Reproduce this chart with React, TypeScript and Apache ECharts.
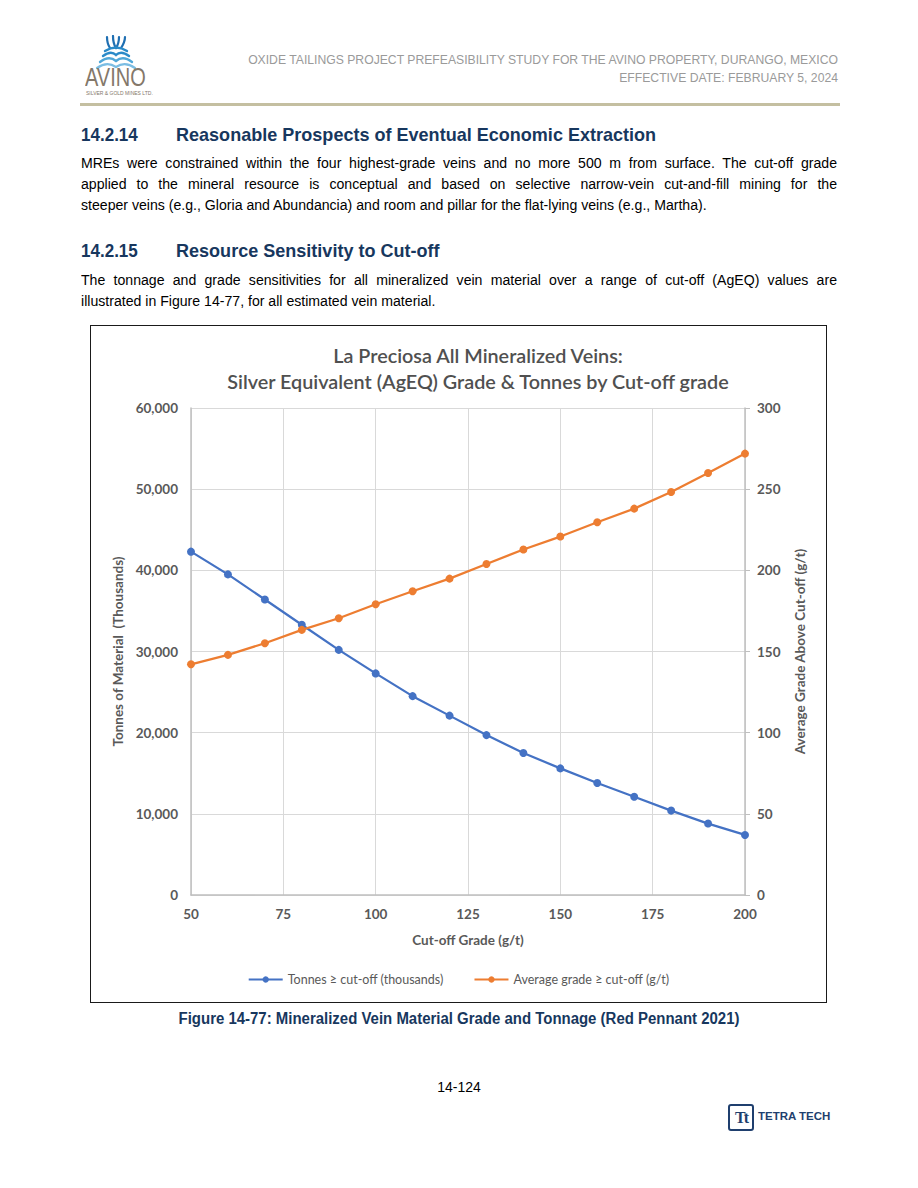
import React, { useEffect, useRef } from "react";
import * as echarts from "echarts";

const cutoffGrades = [50, 60, 70, 80, 90, 100, 110, 120, 130, 140, 150, 160, 170, 180, 190, 200];
const tonnesAbove = [42300, 39500, 36400, 33300, 30200, 27300, 24500, 22100, 19700, 17500, 15600, 13800, 12100, 10400, 8800, 7400];
const gradeAbove = [142.1, 147.9, 155.1, 163.3, 170.5, 179.1, 187.1, 194.9, 203.9, 212.8, 220.8, 229.6, 238.0, 248.3, 260.0, 271.9];
const seriesNames = ["Tonnes \u2265 cut-off (thousands)", "Average grade \u2265 cut-off (g/t)"];
const titleLines = ["La Preciosa All Mineralized Veins:", "Silver Equivalent (AgEQ) Grade & Tonnes by Cut-off grade"];

const para1Lines = [
  "MREs were constrained within the four highest-grade veins and no more 500 m from surface. The cut-off grade",
  "applied to the mineral resource is conceptual and based on selective narrow-vein cut-and-fill mining for the",
  "steeper veins (e.g., Gloria and Abundancia) and room and pillar for the flat-lying veins (e.g., Martha).",
];
const para2Lines = [
  "The tonnage and grade sensitivities for all mineralized vein material over a range of cut-off (AgEQ) values are",
  "illustrated in Figure 14-77, for all estimated vein material.",
];

const chartFont = "Lato, 'Open Sans', sans-serif";
const docFont = "'Liberation Sans', Arial, sans-serif";
const gray = "#595959";

function Chart() {
  const ref = useRef<HTMLDivElement>(null);
  useEffect(() => {
    if (!ref.current) return;
    const chart = echarts.init(ref.current, undefined, { renderer: "svg" });
    const tonnesData = cutoffGrades.map((c, i) => [c, tonnesAbove[i]]);
    const gradeData = cutoffGrades.map((c, i) => [c, gradeAbove[i]]);
    chart.setOption({
      animation: false,
      backgroundColor: "#ffffff",
      textStyle: { fontFamily: chartFont },
      graphic: [
        {
          type: "text",
          x: 387,
          y: 29,
          style: { text: titleLines[0], fill: "#505050", font: `600 19.8px ${chartFont}`, textAlign: "center", textVerticalAlign: "middle" },
        },
        {
          type: "text",
          x: 387,
          y: 55,
          style: { text: titleLines[1], fill: "#505050", font: `600 19.8px ${chartFont}`, textAlign: "center", textVerticalAlign: "middle" },
        },
      ],
      grid: { left: 100, right: 81, top: 82, bottom: 107, containLabel: false },
      legend: {
        bottom: 11,
        left: "center",
        itemWidth: 34,
        itemHeight: 8,
        itemGap: 30,
        textStyle: { color: gray, fontSize: 12.5, fontFamily: chartFont },
        data: seriesNames,
      },
      xAxis: {
        type: "value",
        min: 50,
        max: 200,
        interval: 25,
        name: "Cut-off Grade (g/t)",
        nameLocation: "middle",
        nameGap: 38,
        nameTextStyle: { color: gray, fontSize: 13.5, fontWeight: "bold", fontFamily: chartFont },
        axisLine: { show: true, lineStyle: { color: "#BFBFBF", width: 1.5 } },
        axisTick: { show: false },
        axisLabel: { color: gray, fontSize: 13.5, fontWeight: "bold", margin: 12 },
        splitLine: { show: true, lineStyle: { color: "#D9D9D9", width: 1 } },
      },
      yAxis: [
        {
          type: "value",
          min: 0,
          max: 60000,
          interval: 10000,
          name: "Tonnes of Material  (Thousands)",
          nameLocation: "middle",
          nameRotate: 90,
          nameGap: 63,
          nameTextStyle: { color: gray, fontSize: 13.5, fontWeight: "bold", fontFamily: chartFont },
          axisLine: { show: true, lineStyle: { color: "#BFBFBF", width: 1.5 } },
          axisTick: { show: false },
          axisLabel: {
            color: gray,
            fontSize: 13.5,
            fontWeight: "bold",
            margin: 13,
            formatter: (v: number) => v.toLocaleString("en-US"),
          },
          splitLine: { show: true, lineStyle: { color: "#D9D9D9", width: 1 } },
        },
        {
          type: "value",
          min: 0,
          max: 300,
          interval: 50,
          position: "right",
          name: "Average Grade Above Cut-off (g/t)",
          nameLocation: "middle",
          nameRotate: 90,
          nameGap: 48,
          nameTextStyle: { color: gray, fontSize: 13.5, fontWeight: "bold", fontFamily: chartFont },
          axisLine: { show: true, lineStyle: { color: "#BFBFBF", width: 1.5 } },
          axisTick: { show: true, length: 5, lineStyle: { color: "#BFBFBF" } },
          axisLabel: { color: gray, fontSize: 13.5, fontWeight: "bold", margin: 12 },
          splitLine: { show: false },
        },
      ],
      series: [
        {
          name: seriesNames[0],
          type: "line",
          yAxisIndex: 0,
          data: tonnesData,
          symbol: "circle",
          symbolSize: 8,
          color: "#4472C4",
          lineStyle: { width: 2.25, color: "#4472C4" },
          itemStyle: { color: "#4472C4" },
        },
        {
          name: seriesNames[1],
          type: "line",
          yAxisIndex: 1,
          data: gradeData,
          symbol: "circle",
          symbolSize: 8,
          color: "#ED7D31",
          lineStyle: { width: 2.25, color: "#ED7D31" },
          itemStyle: { color: "#ED7D31" },
        },
      ],
    });
    return () => chart.dispose();
  }, []);
  return <div ref={ref} style={{ width: 735, height: 676 }} />;
}

function AvinoLogo() {
  return (
    <div style={{ position: "absolute", left: 83, top: 35, width: 80, height: 62 }}>
      <svg width="80" height="36" viewBox="0 0 80 36" style={{ position: "absolute", left: 0, top: 0 }}>
        <g fill="none" strokeLinecap="round">
          <path d="M24 2 C24 7 25 10 27 13" stroke="#1F6FB2" strokeWidth="2.2" />
          <path d="M30 1 C30 7 31 10 33 13" stroke="#1F6FB2" strokeWidth="2.2" />
          <path d="M36 2 C36 7 35 10 33 13" stroke="#1F6FB2" strokeWidth="2.2" />
          <path d="M42 2 C42 7 40 10 38 13" stroke="#1F6FB2" strokeWidth="2.2" />
          <path d="M22 16 Q33 9 44 16" stroke="#2A8AC8" strokeWidth="2.4" />
          <path d="M20 21 Q28 15 33 20 Q38 15 46 21" stroke="#2A8AC8" strokeWidth="2.4" />
          <path d="M17 27 Q26 20 33 26 Q40 20 49 27" stroke="#4FA7D8" strokeWidth="2.4" />
          <path d="M14 33 Q24 26 33 32 Q42 26 52 33" stroke="#7BBDE3" strokeWidth="2.2" />
        </g>
      </svg>
      <div
        style={{
          position: "absolute",
          left: 2,
          top: 30,
          fontFamily: docFont,
          fontSize: 25,
          lineHeight: "25px",
          color: "#84786A",
          transform: "scaleX(0.8)",
          transformOrigin: "left top",
          whiteSpace: "nowrap",
        }}
      >
        AVINO
      </div>
      <div
        style={{
          position: "absolute",
          left: 3,
          top: 55,
          fontFamily: docFont,
          fontSize: 5,
          lineHeight: "6px",
          color: "#84786A",
          whiteSpace: "nowrap",
        }}
      >
        SILVER &amp; GOLD MINES LTD.
      </div>
    </div>
  );
}

function TetraTechLogo() {
  return (
    <div style={{ position: "absolute", left: 728, top: 1104 }}>
      <div
        style={{
          position: "absolute",
          left: 0,
          top: 0,
          width: 22,
          height: 23,
          border: "2px solid #1F3F6E",
          borderRadius: 3,
          color: "#1F3F6E",
          fontFamily: "'Liberation Serif', serif",
          fontWeight: "bold",
          fontSize: 16,
          lineHeight: "23px",
          textAlign: "center",
          letterSpacing: -2,
        }}
      >
        Tt
      </div>
      <div
        style={{
          position: "absolute",
          left: 30,
          top: 5,
          whiteSpace: "nowrap",
          fontFamily: "'Liberation Sans', Arial, sans-serif",
          fontWeight: "bold",
          fontSize: 11.5,
          lineHeight: "14px",
          color: "#1F3F6E",
        }}
      >
        TETRA TECH
      </div>
    </div>
  );
}

const headingBase: React.CSSProperties = {
  position: "absolute",
  fontFamily: docFont,
  fontWeight: "bold",
  fontSize: 18.5,
  lineHeight: "22px",
  color: "#17375E",
  whiteSpace: "nowrap",
  transformOrigin: "left top",
};

const PARA_SCALE = 0.91;
const LINE_H = 21;

function Paragraph({ lines, top }: { lines: string[]; top: number }) {
  return (
    <div
      style={{
        position: "absolute",
        left: 81,
        top,
        width: 756 / PARA_SCALE,
        fontFamily: docFont,
        fontSize: 15.5,
        lineHeight: `${LINE_H}px`,
        color: "#000",
        transform: `scaleX(${PARA_SCALE})`,
        transformOrigin: "left top",
      }}
    >
      {lines.map((ln, i) => (
        <div
          key={i}
          style={{
            whiteSpace: "nowrap",
            textAlign: i < lines.length - 1 ? "justify" : "left",
            textAlignLast: i < lines.length - 1 ? "justify" : "left",
          }}
        >
          {ln}
        </div>
      ))}
    </div>
  );
}

export default function App() {
  return (
    <div style={{ position: "absolute", left: 0, top: 0, width: 918, height: 1188, background: "#fff", overflow: "hidden" }}>
      <AvinoLogo />
      <div
        style={{
          position: "absolute",
          right: 918 - 838,
          top: 51,
          textAlign: "right",
          fontFamily: docFont,
          fontSize: 12.2,
          lineHeight: "18px",
          color: "#9A9A9A",
          whiteSpace: "nowrap",
        }}
      >
        <div>OXIDE TAILINGS PROJECT PREFEASIBILITY STUDY FOR THE AVINO PROPERTY, DURANGO, MEXICO</div>
        <div>EFFECTIVE DATE: FEBRUARY 5, 2024</div>
      </div>
      <div style={{ position: "absolute", left: 80, top: 103, width: 760, height: 3, background: "#C4BFA1" }} />

      <div style={{ ...headingBase, left: 81, top: 124, transform: "scaleX(0.92)" }}>14.2.14</div>
      <div style={{ ...headingBase, left: 176, top: 124, transform: "scaleX(0.975)" }}>
        Reasonable Prospects of Eventual Economic Extraction
      </div>
      <Paragraph lines={para1Lines} top={152} />

      <div style={{ ...headingBase, left: 81, top: 240, transform: "scaleX(0.92)" }}>14.2.15</div>
      <div style={{ ...headingBase, left: 176, top: 240, transform: "scaleX(0.975)" }}>Resource Sensitivity to Cut-off</div>
      <Paragraph lines={para2Lines} top={269} />

      <div
        style={{
          position: "absolute",
          left: 90,
          top: 325,
          width: 737,
          height: 678,
          border: "1px solid #1a1a1a",
          boxSizing: "border-box",
        }}
      >
        <Chart />
      </div>

      <div
        style={{
          position: "absolute",
          left: 459 - 600,
          width: 1200,
          top: 1008,
          textAlign: "center",
          fontFamily: docFont,
          fontWeight: "bold",
          fontSize: 16,
          lineHeight: "21px",
          color: "#17375E",
          transform: "scaleX(0.935)",
          transformOrigin: "center top",
        }}
      >
        Figure 14-77: Mineralized Vein Material Grade and Tonnage (Red Pennant 2021)
      </div>

      <div
        style={{
          position: "absolute",
          left: 0,
          width: 918,
          top: 1078,
          textAlign: "center",
          fontFamily: docFont,
          fontSize: 14,
          lineHeight: "18px",
          color: "#000",
        }}
      >
        14-124
      </div>
      <TetraTechLogo />
    </div>
  );
}
